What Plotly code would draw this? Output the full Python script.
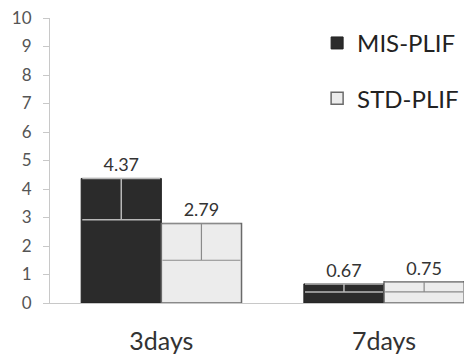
import plotly.graph_objects as go

categories = ["3days", "7days"]
mis_values = [4.37, 0.67]
mis_err_minus = [1.45, 0.28]
std_values = [2.79, 0.75]
std_err_minus = [1.29, 0.36]
y_ticks = list(range(0, 11))

fig = go.Figure()
fig.add_trace(go.Bar(
    name="MIS-PLIF", x=categories, y=mis_values,
    text=[f"{v:.2f}" for v in mis_values], textposition="outside",
    textfont=dict(size=18, color="#333"),
    marker=dict(color="#2b2b2b", line=dict(color="#222", width=1)),
    error_y=dict(type="data", symmetric=False, array=[0, 0], arrayminus=mis_err_minus,
                 color="#b8b8b8", thickness=1.5, width=39),
    cliponaxis=False, legendgroup="a",
))
fig.add_trace(go.Bar(
    name="STD-PLIF", x=categories, y=std_values,
    text=[f"{v:.2f}" for v in std_values], textposition="outside",
    textfont=dict(size=18, color="#333"),
    marker=dict(color="#ececec", line=dict(color="#6a6a6a", width=1.5)),
    error_y=dict(type="data", symmetric=False, array=[0, 0], arrayminus=std_err_minus,
                 color="#8a8a8a", thickness=1.2, width=39),
    cliponaxis=False, legendgroup="b",
))

fig.update_layout(
    width=464, height=347,
    margin=dict(l=42, r=2, t=10, b=52),
    paper_bgcolor="white", plot_bgcolor="white",
    font=dict(family="Lato, Open Sans, sans-serif", color="#333"),
    barmode="group", bargap=0.28, bargroupgap=0,
    showlegend=True,
    legend=dict(x=0.636, y=0.99, xanchor="left", yanchor="top",
                font=dict(size=24, color="#222"), tracegroupgap=21,
                bgcolor="rgba(0,0,0,0)", itemwidth=30),
    xaxis=dict(range=[-0.5, 1.386], showline=True, linecolor="#c8c8c8", linewidth=1,
               ticks="", tickfont=dict(size=25, color="#333"), showgrid=False,
               automargin=False, ticklabelstandoff=16),
    yaxis=dict(range=[0, 10], tickvals=y_ticks, showline=True, linecolor="#c8c8c8",
               linewidth=1, ticks="outside", ticklen=6, tickcolor="#c8c8c8",
               tickfont=dict(size=17, color="#555"), showgrid=False, zeroline=False,
               automargin=False, ticklabelstandoff=8, ticklabeloverflow="allow"),
)

fig.write_html("out.html")
